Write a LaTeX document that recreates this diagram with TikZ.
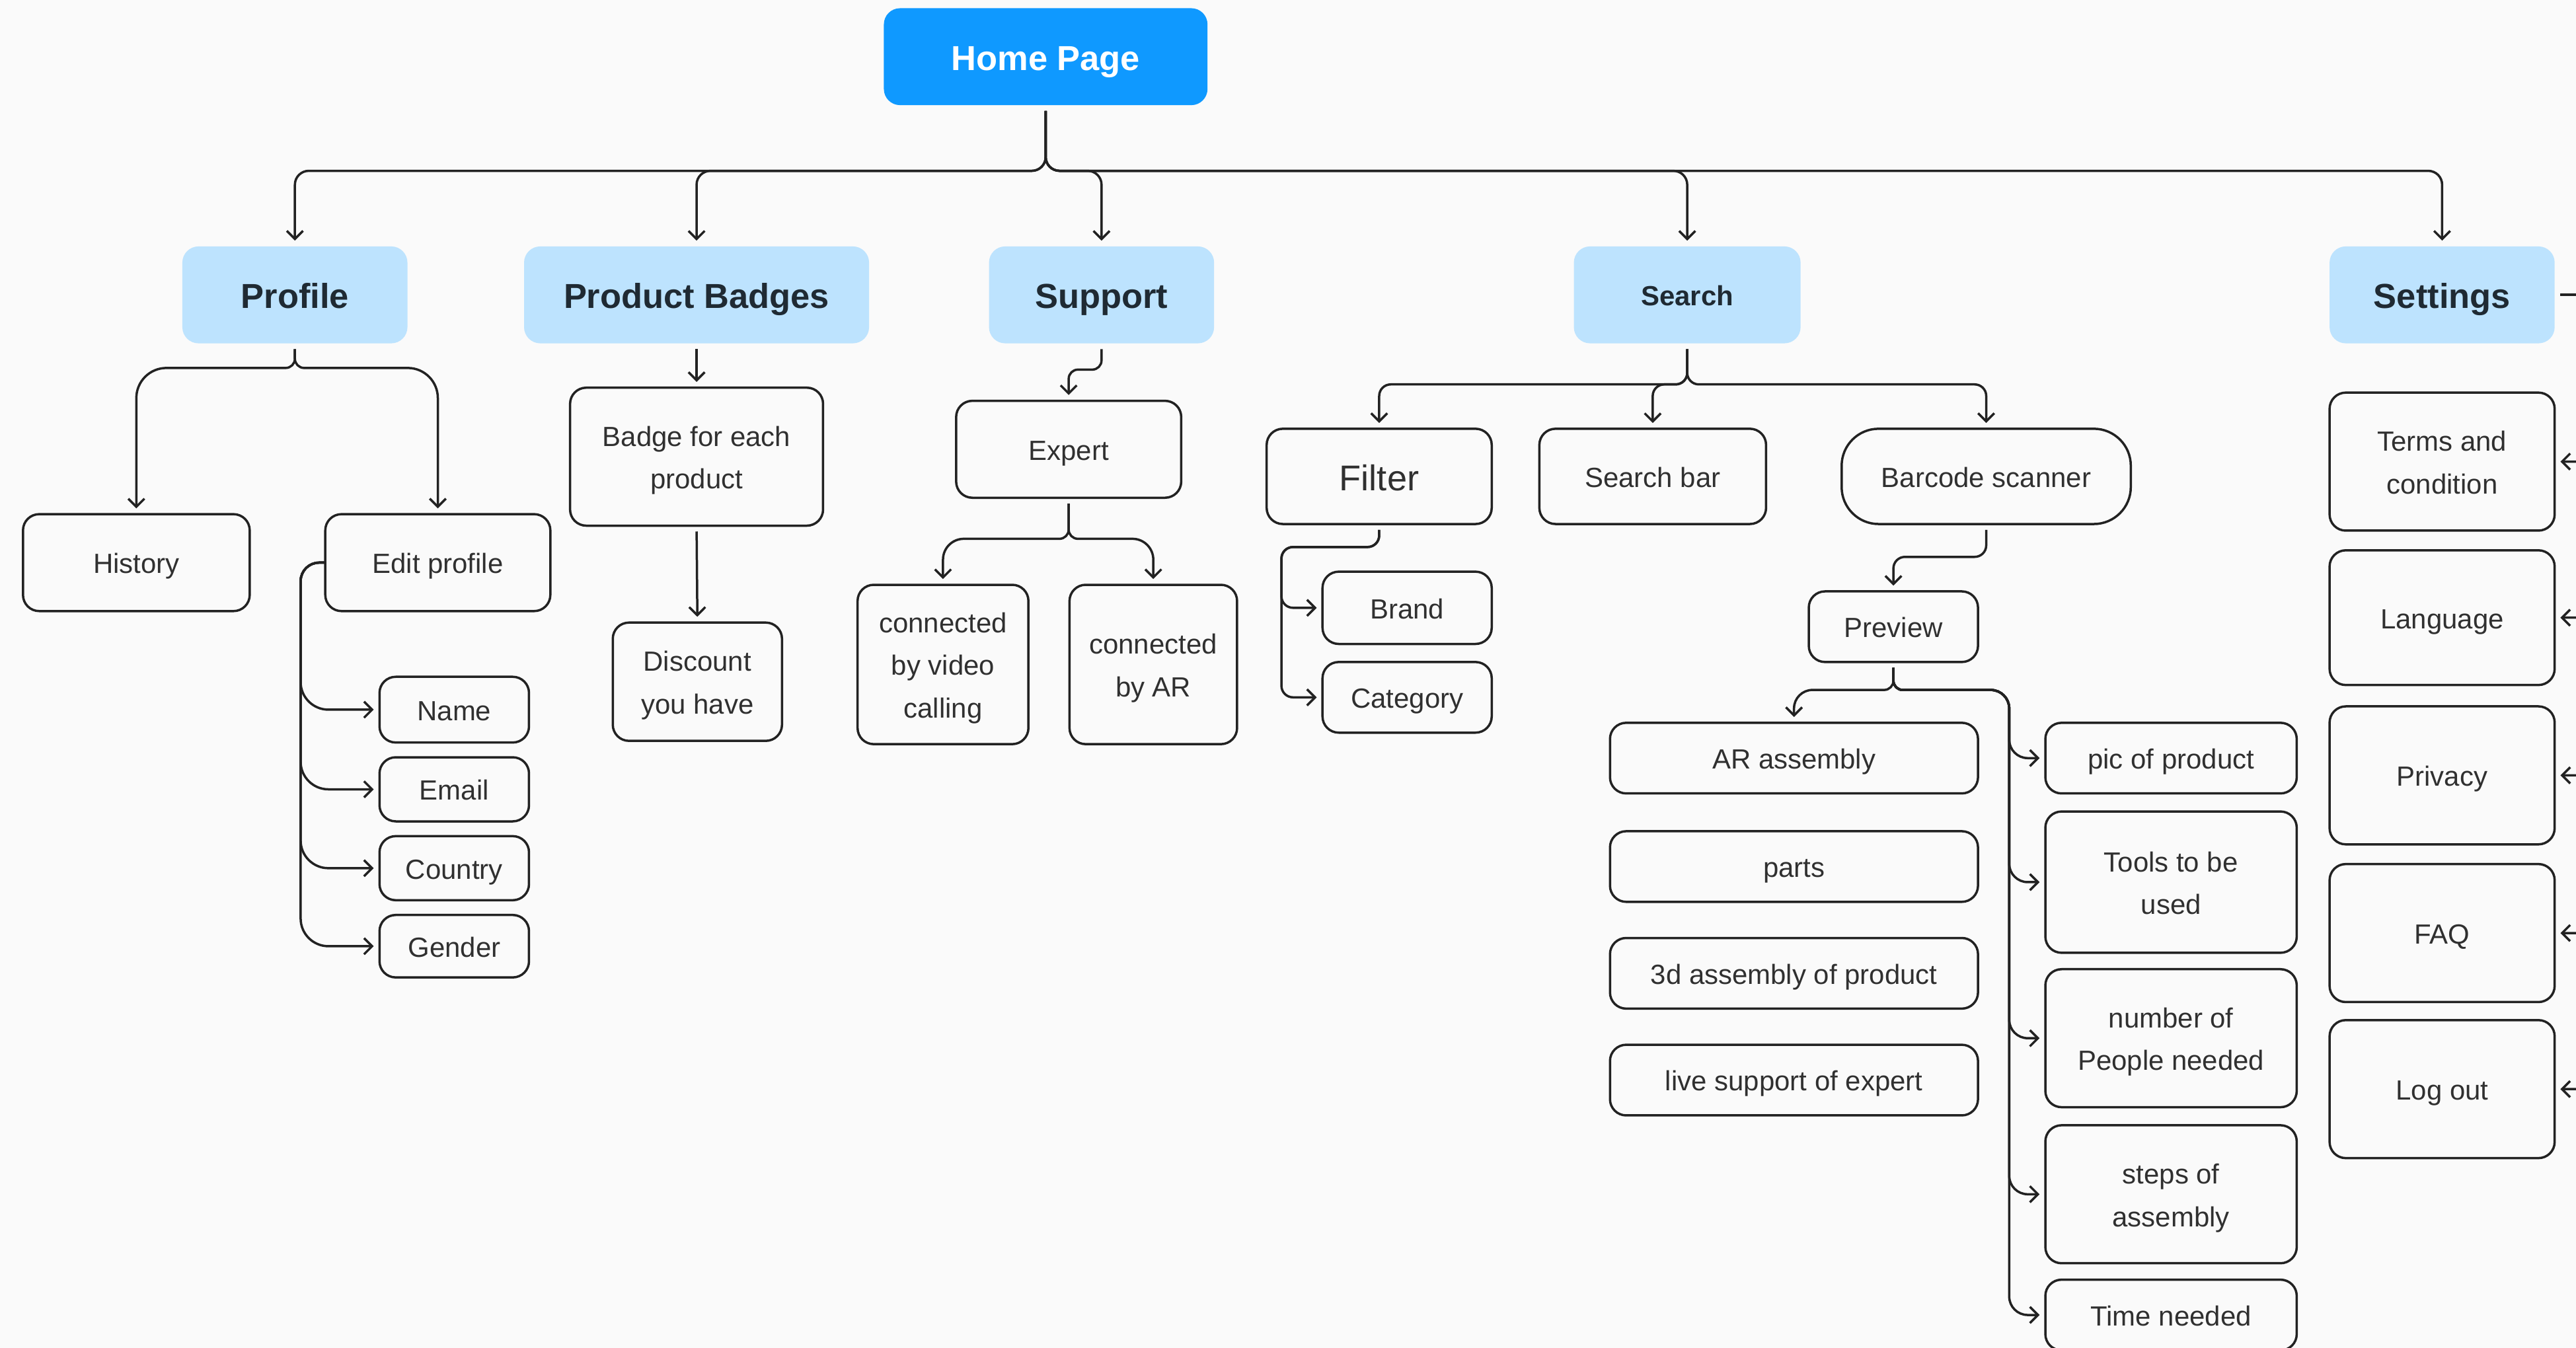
\documentclass[tikz,border=0pt]{standalone}
\usepackage{fontspec}
\setmainfont{Liberation Sans}
\usetikzlibrary{arrows.meta}

\definecolor{bg}{HTML}{FAFAFA}
\definecolor{homeblue}{HTML}{0F99FF}
\definecolor{catblue}{HTML}{BDE3FE}
\definecolor{ink}{HTML}{222222}
\definecolor{txt}{HTML}{303030}
\definecolor{cattxt}{HTML}{1F2A33}

\tikzset{
  every node/.style={inner sep=0pt, outer sep=0pt},
  home/.style={fill=homeblue, rounded corners=7pt, text=white,
    font=\fontsize{15}{18}\selectfont\bfseries},
  cat/.style={fill=catblue, rounded corners=7pt, text=cattxt,
    font=\fontsize{15}{18}\selectfont\bfseries},
  catsmall/.style={cat, font=\fontsize{12}{15}\selectfont\bfseries},
  item/.style={draw=ink, line width=1pt, fill=bg, rounded corners=7pt,
    text=txt, align=center, font=\fontsize{12}{18.5}\selectfont},
  bigitem/.style={item, font=\fontsize{15.5}{18.5}\selectfont},
  pill/.style={item, rounded corners=16pt},
  conn/.style={draw=ink, line width=1pt,
    -{Straight Barb[length=3.5pt,width=7pt]},
    shorten <=2.5pt, shorten >=2.5pt},
}

% struts that fix where the text sits inside its box
\newcommand\topstrut{\rule[-0.23em]{0pt}{1.24em}}
\newcommand\botstrut{\rule[-0.23em]{0pt}{0.23em}}

% box from its corners: [style]{name}{x1}{y1}{x2}{y2}{text}
\newcommand\bx[7][item]{%
  \node[#1, minimum width={(#5-#3)*0.025cm}, minimum height={(#6-#4)*0.025cm}]
    (#2) at ({(#3+#5)/2},{(#4+#6)/2}) {\topstrut#7\botstrut};}

\begin{document}
\begin{tikzpicture}[x=0.025cm, y=-0.025cm]
\path[use as bounding box, fill=bg] (0,0) rectangle (1568,820.6);
\clip (0,0) rectangle (1568,820.6);

% top level
\bx[home]{home}{538}{5}{735}{64}{Home Page}
\bx[cat]{profile}{111}{150}{248}{209}{Profile}
\bx[cat]{badges}{319}{150}{529}{209}{Product Badges}
\bx[cat]{support}{602}{150}{739}{209}{Support}
\bx[catsmall]{search}{958}{150}{1096}{209}{Search}
\bx[cat]{settings}{1418}{150}{1555}{209}{Settings}

% profile
\bx{history}{14}{313}{152}{372}{History}
\bx{edit}{198}{313}{335}{372}{Edit profile}
\bx{name}{231}{412}{322}{452}{Name}
\bx{email}{231}{461}{322}{500}{Email}
\bx{country}{231}{509}{322}{548}{Country}
\bx{gender}{231}{557}{322}{595}{Gender}

% product badges
\bx{badgeeach}{347}{236}{501}{320}{Badge for each\\product}
\bx{discount}{373}{379}{476}{451}{Discount\\you have}

% support
\bx{expert}{582}{244}{719}{303}{Expert}
\bx{video}{522}{356}{626}{453}{connected\\by video\\calling}
\bx{byar}{651}{356}{753}{453}{connected\\by AR}

% search
\bx[bigitem]{filter}{771}{261}{908}{319}{Filter}
\bx{searchbar}{937}{261}{1075}{319}{Search bar}
\bx[pill]{barcode}{1121}{261}{1297}{319}{Barcode scanner}
\bx{brand}{805}{348}{908}{392}{Brand}
\bx{category}{805}{403}{908}{446}{Category}
\bx{preview}{1101}{360}{1204}{403}{Preview}
\bx{arasm}{980}{440}{1204}{483}{AR assembly}
\bx{parts}{980}{506}{1204}{549}{parts}
\bx{threed}{980}{571}{1204}{614}{3d assembly of product}
\bx{live}{980}{636}{1204}{679}{live support of expert}
\bx{pic}{1245}{440}{1398}{483}{pic of product}
\bx{tools}{1245}{494}{1398}{580}{Tools to be\\used}
\bx{people}{1245}{590}{1398}{674}{number of\\People needed}
\bx{steps}{1245}{685}{1398}{769}{steps of\\assembly}
\bx{time}{1245}{779}{1398}{822}{Time needed}

% settings
\bx{terms}{1418}{239}{1555}{323}{Terms and\\condition}
\bx{language}{1418}{335}{1555}{417}{Language}
\bx{privacy}{1418}{430}{1555}{514}{Privacy}
\bx{faq}{1418}{526}{1555}{610}{FAQ}
\bx{logout}{1418}{621}{1555}{705}{Log out}

% levels of the branching lines
\coordinate (hb) at (0,104);
\coordinate (pb) at (0,224);
\coordinate (vx) at (183,0);
\coordinate (sy) at (0,225);
\coordinate (ey) at (0,328);
\coordinate (qy) at (0,234);
\coordinate (fy) at (0,333);
\coordinate (fx) at (780,0);
\coordinate (by) at (0,339);
\coordinate (py) at (0,420);
\coordinate (rx) at (1223,0);
\coordinate (sx) at (1590,0);

% home page to sections
\foreach \n in {profile,badges,support,search,settings}
  \draw[conn, rounded corners=6pt] (home.south) -- (home.south |- hb)
    -- (\n.north |- hb) -- (\n.north);

% profile
\foreach \n in {history,edit}
  \draw[conn, rounded corners=4pt] (profile.south) -- (profile.south |- pb)
    [rounded corners=13pt] -- (\n.north |- pb) -- (\n.north);
\foreach \n in {name,email,country,gender}
  \draw[conn, shorten <=0pt, rounded corners=8pt] (edit.west) -- (edit.west -| vx)
    [rounded corners=12pt] -- (vx |- \n.west) -- (\n.west);

% product badges
\draw[conn] (badges.south) -- (badgeeach.north);
\draw[conn] (badgeeach.south) -- (discount.north);

% support
\draw[conn, rounded corners=4pt] (support.south) -- (support.south |- sy)
  -- (expert.north |- sy) -- (expert.north);
\foreach \n in {video,byar}
  \draw[conn, rounded corners=4pt] (expert.south) -- (expert.south |- ey)
    [rounded corners=9pt] -- (\n.north |- ey) -- (\n.north);

% search
\foreach \n in {filter,searchbar,barcode}
  \draw[conn, rounded corners=5pt] (search.south) -- (search.south |- qy)
    -- (\n.north |- qy) -- (\n.north);
\foreach \n in {brand,category}
  \draw[conn, rounded corners=5pt] (filter.south) -- (filter.south |- fy)
    -- (fx |- fy) -- (fx |- \n.west) -- (\n.west);
\draw[conn, rounded corners=5pt] (barcode.south) -- (barcode.south |- by)
  -- (preview.north |- by) -- (preview.north);
\draw[conn, rounded corners=4pt] (preview.south) -- (preview.south |- py)
  [rounded corners=8pt] -- (arasm.north |- py) -- (arasm.north);
\foreach \n in {pic,tools,people,steps,time}
  \draw[conn, rounded corners=4pt] (preview.south) -- (preview.south |- py)
    [rounded corners=8pt] -- (rx |- py) -- (rx |- \n.west) -- (\n.west);

% settings
\foreach \n in {terms,language,privacy,faq,logout}
  \draw[conn, rounded corners=5pt] (settings.east) -- (sx |- settings.east)
    -- (sx |- \n.east) -- (\n.east);
\end{tikzpicture}
\end{document}
